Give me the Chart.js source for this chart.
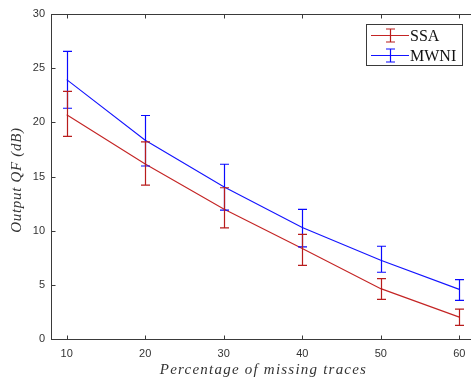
<!DOCTYPE html>
<html><head><meta charset="utf-8">
<script src="https://cdn.jsdelivr.net/npm/chart.js@4"></script>
<style>html,body{margin:0;padding:0;overflow:hidden;background:#fff;width:471px;height:379px}canvas{display:block}</style>
</head><body><canvas id="c" width="480" height="379"></canvas>
<script>
const xValues = [10, 20, 30, 40, 50, 60];
const ssaMean = [20.7, 16.15, 12.0, 8.35, 4.65, 2.02];
const ssaLow  = [18.7, 14.2, 10.26, 6.8, 3.66, 1.25];
const ssaHigh = [22.85, 18.2, 13.96, 9.65, 5.57, 2.76];
const mwniMean = [23.94, 18.35, 14.06, 10.3, 7.27, 4.58];
const mwniLow  = [21.3, 15.97, 11.9, 8.5, 6.16, 3.56];
const mwniHigh = [26.55, 20.63, 16.13, 11.96, 8.56, 5.48];
const xTicks = [10, 20, 30, 40, 50, 60];
const yTicks = [0, 5, 10, 15, 20, 25, 30];
const seriesNames = ['SSA', 'MWNI'];
const xTitle = 'Percentage of missing traces';
const yTitle = 'Output QF (dB)';

const RED = '#c42424', BLUE = '#1414ff';

function fitText(ctx, text, target) {
  const w = ctx.measureText(text).width;
  const ls = (target - w) / Math.max(1, text.length - 1);
  ctx.letterSpacing = ls.toFixed(2) + 'px';
}

const decor = {
  id: 'decor',
  afterDatasetsDraw(chart) {
    const ctx = chart.ctx, xs = chart.scales.x, ys = chart.scales.y;
    const a = chart.chartArea;
    ctx.save();
    ctx.beginPath(); ctx.rect(a.left, a.top - 10, a.right - a.left, a.bottom - a.top + 20); ctx.clip();
    chart.data.datasets.forEach(ds => {
      ctx.strokeStyle = ds.barColor; ctx.lineWidth = 1.2;
      ds.data.forEach((p, i) => {
        const x = Math.round(xs.getPixelForValue(p.x)) + 0.5;
        const y1 = ys.getPixelForValue(ds.errLow[i]);
        const y2 = ys.getPixelForValue(ds.errHigh[i]);
        ctx.beginPath();
        ctx.moveTo(x, y1); ctx.lineTo(x, y2);
        ctx.moveTo(x - 4.5, y1); ctx.lineTo(x + 4.5, y1);
        ctx.moveTo(x - 4.5, y2); ctx.lineTo(x + 4.5, y2);
        ctx.stroke();
      });
    });
    ctx.restore();
  },
  afterDraw(chart) {
    const ctx = chart.ctx, xs = chart.scales.x, ys = chart.scales.y;
    const a = chart.chartArea;
    const L = Math.round(a.left) + 0.5, R = Math.round(a.right) + 0.5;
    const T = Math.round(a.top) + 0.5, B = Math.round(a.bottom) + 0.5;
    ctx.save();
    ctx.strokeStyle = '#3a3a3a'; ctx.lineWidth = 1;
    ctx.strokeRect(L, T, R - L, B - T);
    ctx.beginPath();
    xTicks.forEach(v => {
      const x = Math.round(xs.getPixelForValue(v)) + 0.5;
      ctx.moveTo(x, B); ctx.lineTo(x, B - 4);
      ctx.moveTo(x, T); ctx.lineTo(x, T + 4);
    });
    yTicks.forEach(v => {
      const y = Math.round(ys.getPixelForValue(v)) + 0.5;
      ctx.moveTo(L, y); ctx.lineTo(L + 4, y);
      ctx.moveTo(R, y); ctx.lineTo(R - 4, y);
    });
    ctx.stroke();

    // axis titles
    ctx.fillStyle = '#333';
    ctx.font = 'italic 15px "Liberation Serif"';
    ctx.textAlign = 'center'; ctx.textBaseline = 'middle';
    fitText(ctx, xTitle, 206);
    ctx.fillText(xTitle, (L + R) / 2, 370);
    ctx.save();
    ctx.translate(17, 180); ctx.rotate(-Math.PI / 2);
    fitText(ctx, yTitle, 122);
    ctx.fillText(yTitle, 0, 0);
    ctx.restore();
    ctx.letterSpacing = '0px';

    // legend
    const bx = 366.5, by = 24.5, bw = 96, bh = 41;
    ctx.fillStyle = '#fff'; ctx.fillRect(bx, by, bw, bh);
    ctx.strokeStyle = '#3a3a3a'; ctx.strokeRect(bx, by, bw, bh);
    const entries = [chart.data.datasets[1], chart.data.datasets[0]];
    entries.forEach((ds, k) => {
      const y = 35.5 + k * 20;
      ctx.strokeStyle = ds.borderColor; ctx.lineWidth = 1;
      ctx.beginPath(); ctx.moveTo(371, y); ctx.lineTo(409, y); ctx.stroke();
      ctx.strokeStyle = ds.barColor; ctx.lineWidth = 1.2;
      ctx.beginPath();
      ctx.moveTo(390.5, y - 6.5); ctx.lineTo(390.5, y + 6.5);
      ctx.moveTo(386, y - 6.5); ctx.lineTo(395, y - 6.5);
      ctx.moveTo(386, y + 6.5); ctx.lineTo(395, y + 6.5);
      ctx.stroke();
      ctx.fillStyle = '#111';
      ctx.font = '16px "Liberation Serif"';
      ctx.textAlign = 'left'; ctx.textBaseline = 'middle';
      ctx.fillText(ds.label, 410, y + 1);
    });
    ctx.restore();
  }
};

new Chart(document.getElementById('c'), {
  type: 'line',
  data: {
    datasets: [
      { label: seriesNames[1], data: xValues.map((x, i) => ({ x, y: mwniMean[i] })),
        borderColor: BLUE, borderWidth: 1.1, pointRadius: 0, fill: false, tension: 0,
        errLow: mwniLow, errHigh: mwniHigh, barColor: '#0a0aff' },
      { label: seriesNames[0], data: xValues.map((x, i) => ({ x, y: ssaMean[i] })),
        borderColor: RED, borderWidth: 1.1, pointRadius: 0, fill: false, tension: 0,
        errLow: ssaLow, errHigh: ssaHigh, barColor: '#b81c1c' }
    ]
  },
  options: {
    responsive: false, animation: false,
    layout: { padding: { top: 14, right: 5, left: 0, bottom: 0 } },
    plugins: { legend: { display: false }, tooltip: { enabled: false } },
    scales: {
      x: {
        type: 'linear', min: 8, max: 62,
        afterBuildTicks: s => { s.ticks = xTicks.map(v => ({ value: v })); },
        afterFit: s => { s.height = 40; },
        grid: { display: false, drawTicks: false }, border: { display: false },
        ticks: { font: { family: 'Liberation Sans', size: 11 }, color: '#333', padding: 8, maxRotation: 0 }
      },
      y: {
        type: 'linear', min: 0, max: 30,
        afterBuildTicks: s => { s.ticks = yTicks.map(v => ({ value: v })); },
        afterFit: s => { s.width = 51; },
        grid: { display: false, drawTicks: false }, border: { display: false },
        ticks: { font: { family: 'Liberation Sans', size: 11 }, color: '#333', padding: 6 }
      }
    }
  },
  plugins: [decor]
});
</script>
</body></html>
